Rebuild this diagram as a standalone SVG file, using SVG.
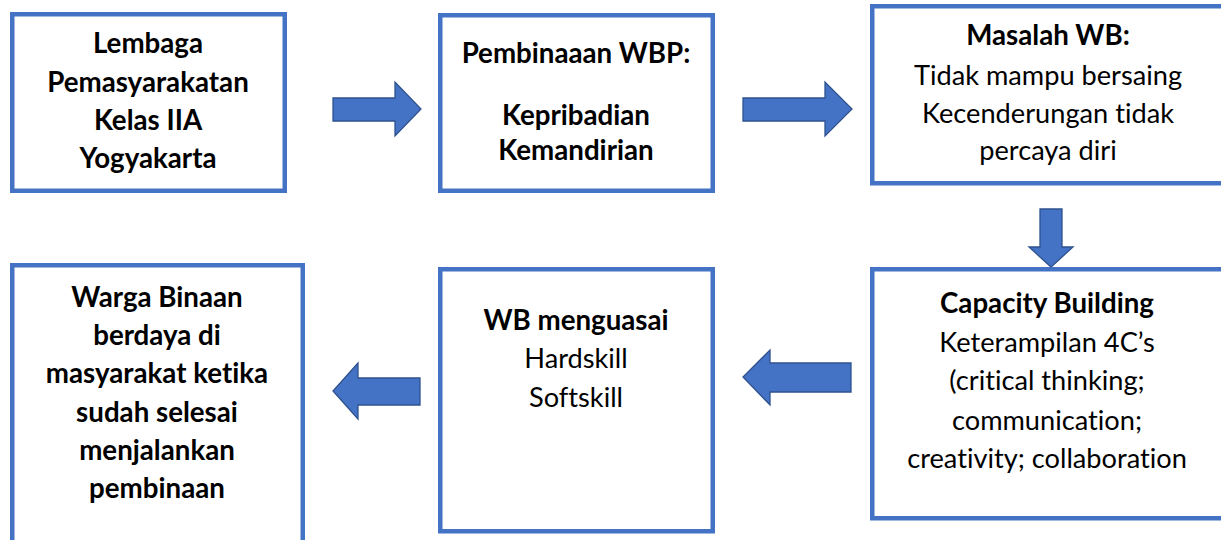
<svg xmlns="http://www.w3.org/2000/svg" width="1221" height="540" viewBox="0 0 1221 540">
<style>
.box{fill:#fff;stroke:#4472C4;stroke-width:4.5}
.arr{fill:#4472C4;stroke:#2F528F;stroke-width:1.3;stroke-linejoin:miter}
text{font-family:Lato,"Open Sans","Liberation Sans",sans-serif;font-size:27.2px;fill:#000;text-anchor:middle;font-variant-ligatures:none}
.b{font-weight:bold;font-size:27.7px}
</style>
<rect width="1221" height="540" fill="#fff"/>
<g id="connectors">
<polygon class="arr" points="333,98 395,98 395,82 421,109 395,136 395,121 333,121"/>
<polygon class="arr" points="743,98 825,98 825,82 852,109 825,136 825,121 743,121"/>
<polygon class="arr" points="1040,209 1062,209 1062,247 1073,247 1051,267 1029,247 1040,247"/>
<polygon class="arr" points="851,363 770,363 770,350 743,377 770,405 770,392 851,392"/>
<polygon class="arr" points="420,378 358,378 358,363 333,391 358,419 358,405 420,405"/>
</g>
<g id="n1">
<rect class="box" x="12.25" y="14.25" width="272.5" height="176.5"/>
<text class="b" x="148" y="53">Lembaga</text>
<text class="b" x="148" y="92">Pemasyarakatan</text>
<text class="b" x="148" y="130">Kelas IIA</text>
<text class="b" x="148" y="168">Yogyakarta</text>
</g>
<g id="n2">
<rect class="box" x="440.25" y="15.25" width="272.5" height="175.5"/>
<text class="b" x="576" y="63">Pembinaaan WBP:</text>
<text class="b" x="576" y="125">Kepribadian</text>
<text class="b" x="576" y="160">Kemandirian</text>
</g>
<g id="n3">
<rect class="box" x="872.25" y="6.25" width="360" height="177"/>
<text class="b" x="1048" y="45">Masalah WB:</text>
<text x="1048" y="85">Tidak mampu bersaing</text>
<text x="1048" y="123">Kecenderungan tidak</text>
<text x="1048" y="160">percaya diri</text>
</g>
<g id="n4">
<rect class="box" x="872.25" y="269.25" width="360" height="249"/>
<text class="b" x="1047" y="313">Capacity Building</text>
<text x="1047" y="352">Keterampilan 4C’s</text>
<text x="1047" y="390">(critical thinking;</text>
<text x="1047" y="430">communication;</text>
<text x="1047" y="468">creativity; collaboration</text>
</g>
<g id="n5">
<rect class="box" x="440.25" y="269.25" width="272.5" height="262"/>
<text class="b" x="576" y="330">WB menguasai</text>
<text x="576" y="368">Hardskill</text>
<text x="576" y="407">Softskill</text>
</g>
<g id="n6">
<rect class="box" x="12.25" y="265.25" width="290.5" height="290"/>
<text class="b" x="157" y="307">Warga Binaan</text>
<text class="b" x="157" y="345">berdaya di</text>
<text class="b" x="157" y="383">masyarakat ketika</text>
<text class="b" x="157" y="422">sudah selesai</text>
<text class="b" x="157" y="460">menjalankan</text>
<text class="b" x="157" y="498">pembinaan</text>
</g>
</svg>
